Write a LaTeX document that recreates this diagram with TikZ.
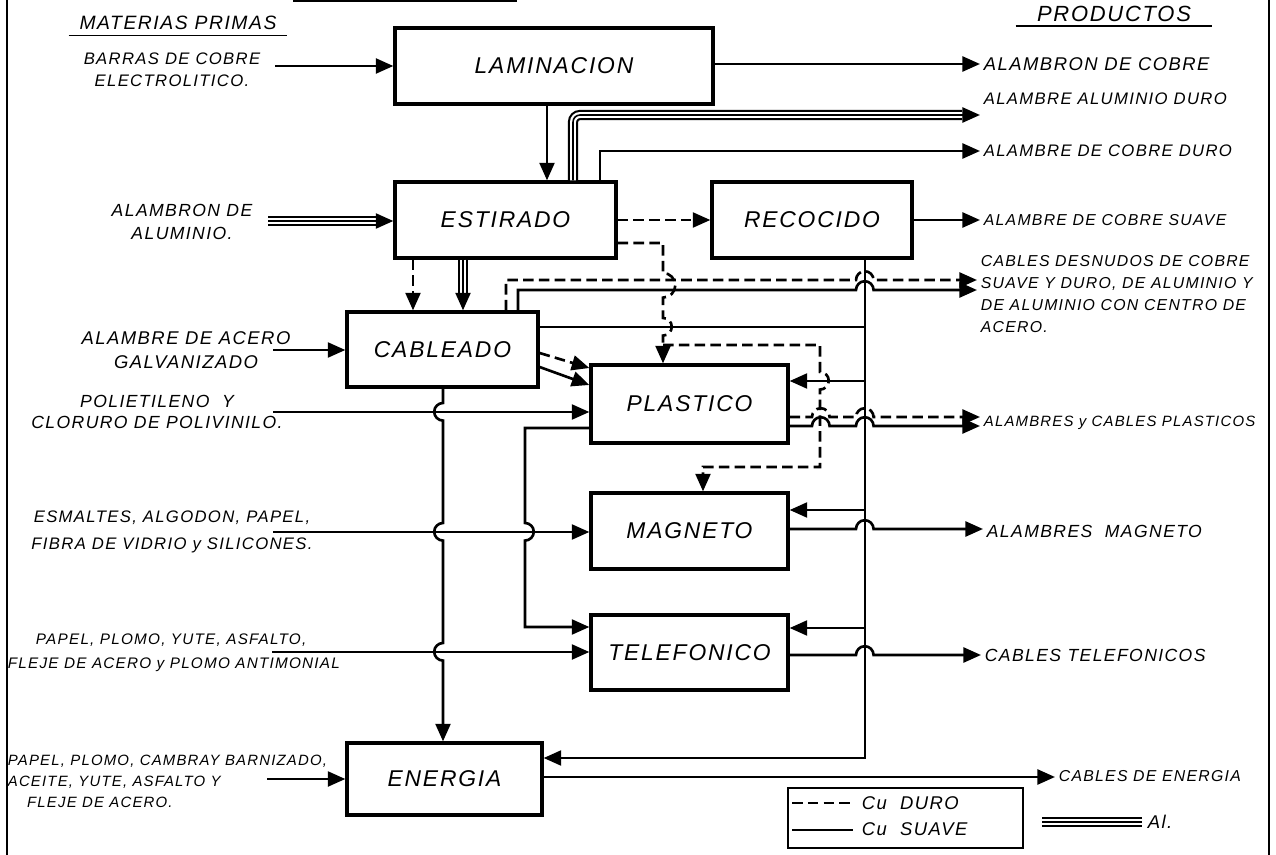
\documentclass[tikz,border=0pt]{standalone}
\usepackage{fontspec}
\setmainfont{Liberation Sans}[LetterSpace=8]
\usetikzlibrary{arrows.meta,positioning}

\tikzstyle{process} = [rectangle, draw=black, line width=1.9pt,
                       inner sep=0pt, text centered,
                       font=\fontsize{13}{15}\selectfont\itshape]
\tikzstyle{flow} = [line width=1.5pt, -{Triangle[length=10pt,width=8.5pt]}]
\tikzstyle{wire} = [line width=1.5pt]
\tikzstyle{duro} = [dash pattern=on 6pt off 3pt]
\tikzstyle{alum} = [line width=5.8pt, rounded corners=4pt,
                    postaction={draw=white, line width=3.4pt},
                    postaction={draw=black, line width=0.9pt}]
\tikzstyle{rawmat} = [inner sep=2pt, align=center,
                      font=\fontsize{9.5}{12.5}\selectfont\itshape]
\tikzstyle{product} = [inner sep=2pt, anchor=west, align=left,
                       font=\fontsize{9.5}{12.5}\selectfont\itshape]
\tikzstyle{heading} = [inner xsep=6pt, inner ysep=3pt,
                       font=\fontsize{11}{13}\selectfont\itshape]

\begin{document}
\begin{tikzpicture}[x=0.02cm, y=-0.02cm]
  \useasboundingbox (0,0) rectangle (1276,855);

  % frame
  \draw[line width=1pt] (7,0) -- (7,855);
  \draw[line width=1pt] (1269,0) -- (1269,855);
  \draw[line width=1pt] (293,1) -- (517,1);

  \node (mp) [heading] at (178,23) {MATERIAS PRIMAS};
  \draw[line width=1pt] (mp.south west) -- (mp.south east);
  \node (prod) [heading, inner xsep=12pt, inner ysep=2pt,
                font=\fontsize{12.5}{14}\selectfont\itshape] at (1114,14) {PRODUCTOS};
  \draw[line width=1pt] (prod.south west) -- (prod.south east);

  % processes
  \node (lam) [process, minimum width=6.36cm, minimum height=1.52cm] at (554,66) {LAMINACION};
  \node (est) [process, minimum width=4.42cm, minimum height=1.52cm] at (505.5,220) {ESTIRADO};
  \node (rec) [process, minimum width=4cm, minimum height=1.52cm] at (812,220) {RECOCIDO};
  \node (cab) [process, minimum width=3.82cm, minimum height=1.5cm] at (442.5,349.5) {CABLEADO};
  \node (pla) [process, minimum width=3.94cm, minimum height=1.56cm] at (689.5,404) {PLASTICO};
  \node (mag) [process, minimum width=3.94cm, minimum height=1.52cm] at (689.5,531) {MAGNETO};
  \node (tel) [process, minimum width=3.94cm, minimum height=1.5cm] at (689.5,652.5) {TELEFONICO};
  \node (ene) [process, minimum width=3.9cm, minimum height=1.44cm] at (444.5,779) {ENERGIA};

  % raw materials
  \node (barras) [rawmat] at (172,70) {BARRAS DE COBRE\\ELECTROLITICO.};
  \node (alumin) [rawmat, font=\fontsize{10}{13}\selectfont\itshape] at (182,222) {ALAMBRON DE\\ALUMINIO.};
  \node (acero) [rawmat, font=\fontsize{10.5}{13.5}\selectfont\itshape] at (186,350) {ALAMBRE DE ACERO\\GALVANIZADO};
  \node (polie) [rawmat, font=\fontsize{10}{11.5}\selectfont\itshape] at (157,412) {POLIETILENO\ \ Y\\CLORURO DE POLIVINILO.};
  \node (esmal) [rawmat] at (172,532) {ESMALTES, ALGODON, PAPEL,\\[3pt]FIBRA DE VIDRIO y SILICONES.};
  \node (papel-a) [rawmat, anchor=west, align=left,
                   font=\fontsize{8.7}{13.5}\selectfont\itshape] at (4,653)
    {\hspace*{16pt}PAPEL, PLOMO, YUTE, ASFALTO,\\FLEJE DE ACERO y PLOMO ANTIMONIAL};
  \node (papel-b) [rawmat, anchor=west, align=left,
                   font=\fontsize{8.5}{12}\selectfont\itshape] at (4,781)
    {PAPEL, PLOMO, CAMBRAY BARNIZADO,\\ACEITE, YUTE, ASFALTO Y\\\hspace*{11pt}FLEJE DE ACERO.};

  \coordinate (barras-in) at (275,66);
  \coordinate (alumin-in) at (268,221);
  \coordinate (acero-in) at (273,350);
  \coordinate (polie-in) at (273,412);
  \coordinate (esmal-in) at (273,532);
  \coordinate (papel-a-in) at (272,652);
  \coordinate (papel-b-in) at (267,779);

  % products
  \node (alcobre) [product, font=\fontsize{10.5}{12.5}\selectfont\itshape] at (980,64) {ALAMBRON DE COBRE};
  \node (alal) [product] at (980,99) {ALAMBRE ALUMINIO DURO};
  \node (aldur) [product] at (980,151) {ALAMBRE DE COBRE DURO};
  \node (alsua) [product, font=\fontsize{9}{12.5}\selectfont\itshape] at (980,220) {ALAMBRE DE COBRE SUAVE};
  \node (desn) [product, anchor=north west, font=\fontsize{9}{12.5}\selectfont\itshape] at (977,252)
    {CABLES DESNUDOS DE COBRE\\SUAVE Y DURO, DE ALUMINIO Y\\DE ALUMINIO CON CENTRO DE\\ACERO.};
  \node (plas) [product, font=\fontsize{8.5}{12}\selectfont\itshape] at (980,423) {ALAMBRES y CABLES PLASTICOS};
  \node (almag) [product, font=\fontsize{10}{12}\selectfont\itshape] at (983,531) {ALAMBRES\ \ MAGNETO};
  \node (caltel) [product, font=\fontsize{10}{12}\selectfont\itshape] at (981,655) {CABLES TELEFONICOS};
  \node (calene) [product, font=\fontsize{9}{12}\selectfont\itshape] at (1055,776) {CABLES DE ENERGIA};

  % inputs
  \draw[flow] (barras-in) -- (lam.west |- barras-in);
  \draw[alum] (alumin-in) -- (379,221);
  \draw[flow] (377,221) -- (est.west |- alumin-in);
  \draw[flow] (acero-in) -- (cab.west |- acero-in);
  \draw[flow] (polie-in) -- (pla.west |- polie-in);
  \draw[flow] (esmal-in) -- (mag.west |- esmal-in);
  \draw[flow] (papel-a-in) -- (tel.west |- papel-a-in);
  \draw[flow] (papel-b-in) -- (ene.west |- papel-b-in);

  % laminacion, estirado
  \draw[flow] (lam.east |- alcobre) -- (alcobre.west);
  \draw[flow] (lam.south -| 547,0) -- (est.north -| 547,0);
  \draw[alum] (est.north -| 573,0) -- (573,115) -- (962,115);
  \draw[flow] (960,115) -- (alal.west |- 0,115);
  \draw[flow] (est.north -| 600,0) -- (600,151) -- (aldur.west);
  \draw[flow, duro] (est) -- (rec);
  \draw[flow] (rec.east |- alsua) -- (alsua.west);
  \draw[flow, duro] (est.south -| 413,0) -- (cab.north -| 413,0);
  \draw[alum] (est.south -| 463,0) -- (463,298);
  \draw[flow] (463,296) -- (cab.north -| 463,0);

  % estirado -> plastico, magneto (Cu duro)
  \draw[flow, duro] (est.east |- 0,243) -- (663,243) -- (663,273)
    arc[start angle=90, end angle=-90, radius=7pt] -- (663,318)
    arc[start angle=90, end angle=-90, radius=5pt] -- (pla.north -| 663,0);
  \draw[flow, duro] (663,345) -- (820,345) -- (820,372)
    arc[start angle=90, end angle=-90, radius=5pt] -- (820,467) -- (703,467)
    -- (mag.north -| 703,0);

  % cableado
  \draw[flow, duro] (cab.north -| 506,0) -- (506,280) -- (856,280)
    arc[start angle=180, end angle=0, radius=5pt] -- (desn.west |- 0,280);
  \draw[flow] (cab.north -| 518,0) -- (518,290) -- (856,290)
    arc[start angle=180, end angle=0, radius=5pt] -- (desn.west |- 0,290);
  \draw[wire] (cab.east |- 0,327) -- (865,327);
  \draw[flow, duro] (cab.east |- 0,353) -- (pla.west |- 0,368);
  \draw[flow] (cab.east |- 0,367) -- (pla.west |- 0,385);
  \draw[flow] (cab.south -| 443,0) -- (443,403)
    arc[start angle=90, end angle=270, radius=5pt] -- (443,523)
    arc[start angle=90, end angle=270, radius=5pt] -- (443,643)
    arc[start angle=90, end angle=270, radius=5pt] -- (ene.north -| 443,0);

  % recocido bus
  \draw[flow] (rec.south -| 865,0) -- (865,758) -- (ene.east |- 0,758);
  \draw[flow] (865,381) -- (pla.east |- 0,381);
  \draw[flow] (865,510) -- (mag.east |- 0,510);
  \draw[flow] (865,628) -- (tel.east |- 0,628);

  % plastico
  \draw[flow, duro] (pla.east |- 0,417) -- (812,417)
    arc[start angle=180, end angle=0, radius=5pt] -- (856,417)
    arc[start angle=180, end angle=0, radius=5pt] -- (plas.west |- 0,417);
  \draw[flow] (pla.east |- 0,426) -- (812,426)
    arc[start angle=180, end angle=0, radius=5pt] -- (856,426)
    arc[start angle=180, end angle=0, radius=5pt] -- (plas.west |- 0,426);
  \draw[flow] (pla.west |- 0,428) -- (525,428) -- (525,523)
    arc[start angle=90, end angle=-90, radius=5pt] -- (525,627) -- (tel.west |- 0,627);

  % magneto, telefonico, energia
  \draw[flow] (mag.east |- 0,529) -- (856,529)
    arc[start angle=180, end angle=0, radius=5pt] -- (almag.west |- 0,529);
  \draw[flow] (tel.east |- caltel) -- (856,655)
    arc[start angle=180, end angle=0, radius=5pt] -- (caltel.west);
  \draw[flow] (ene.east |- 0,777) -- (calene.west |- 0,777);

  % legend
  \node (legend) [draw, line width=1.5pt, minimum width=4.7cm, minimum height=1.2cm] at (905.5,818) {};
  \draw[wire, duro] (792,803) -- (853,803);
  \node (cudur) [product, font=\fontsize{10.5}{12}\selectfont\itshape] at (858,803) {Cu\ \ DURO};
  \draw[wire] (792,830) -- (853,830);
  \node (cusua) [product, font=\fontsize{10.5}{12}\selectfont\itshape] at (858,829) {Cu\ \ SUAVE};
  \draw[alum] (1042,822) -- (1142,822);
  \node (alleg) [product, font=\fontsize{10.5}{12}\selectfont\itshape] at (1144,822) {Al.};

\end{tikzpicture}
\end{document}
